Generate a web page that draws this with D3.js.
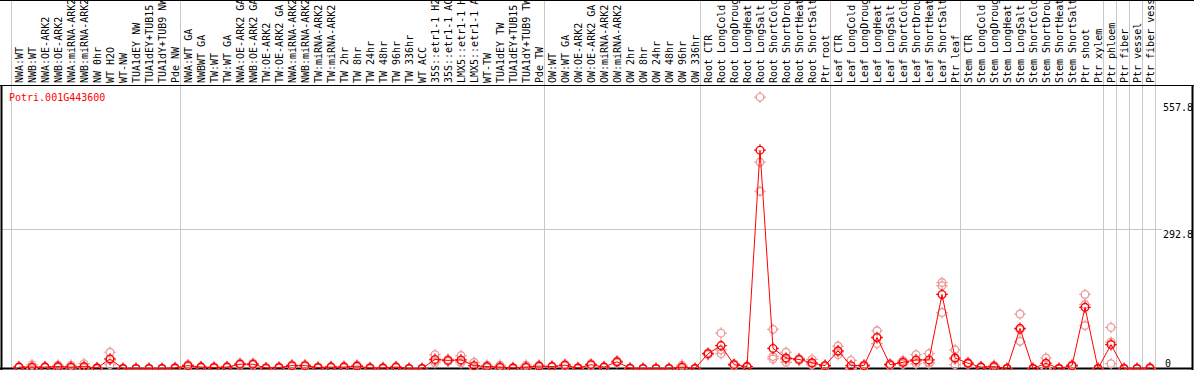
<html>
<head>
    <title> Potri.001G443600 expression </title>
    <style>
        body {
            margin: 0;
            background: #fff;
        }

        #main-svg {
            display: block;
        }

        text {
            font-family: "DejaVu Sans Mono", "Liberation Mono", monospace;
            font-size: 10px;
        }
    </style>
</head>

<script src="https://d3js.org/d3.v7.min.js"></script>

<body>
    <svg id="main-svg" width="1194" height="370" xmlns="http://www.w3.org/2000/svg"></svg>

    <script>
        const geneId = "Potri.001G443600";

        const labels = [
            "NWA:WT", "NWB:WT", "NWA:OE-ARK2", "NWB:OE-ARK2", "NWA:miRNA-ARK2", "NWB:miRNA-ARK2",
            "NW 0hr", "WT H2O", "WT-NW", "TUA1dEY NW", "TUA1dEY+TUB15 NW", "TUA1dY+TUB9 NW", "Pde NW",
            "NWA:WT GA", "NWBWT GA", "TW:WT", "TW:WT GA", "NWA:OE-ARK2 GA", "NWB:OE-ARK2 GA",
            "TW:OE-ARK2", "TW:OE-ARK2 GA", "NWA:miRNA-ARK2 GA", "NWB:miRNA-ARK2 GA", "TW:miRNA-ARK2",
            "TW:miRNA-ARK2", "TW 2hr", "TW 8hr", "TW 24hr", "TW 48hr", "TW 96hr", "TW 336hr", "WT ACC",
            "35S::etr1-1 H2O", "35S::etr1-1 ACC", "LMX5::etr1-1 H2O", "LMX5::etr1-1 ACC", "WT-TW",
            "TUA1dEY TW", "TUA1dEY+TUB15 TW", "TUA1dY+TUB9 TW", "Pde TW",
            "OW:WT", "OW:WT GA", "OW:OE-ARK2", "OW:OE-ARK2 GA", "OW:miRNA-ARK2", "OW:miRNA-ARK2",
            "OW 2hr", "OW 8hr", "OW 24hr", "OW 48hr", "OW 96hr", "OW 336hr",
            "Root CTR", "Root LongCold", "Root LongDrought", "Root LongHeat", "Root LongSalt",
            "Root ShortCold", "Root ShortDrought", "Root ShortHeat", "Root ShortSalt", "Ptr root",
            "Leaf CTR", "Leaf LongCold", "Leaf LongDrought", "Leaf LongHeat", "Leaf LongSalt",
            "Leaf ShortCold", "Leaf ShortDrought", "Leaf ShortHeat", "Leaf ShortSalt", "Ptr leaf",
            "Stem CTR", "Stem LongCold", "Stem LongDrought", "Stem LongHeat", "Stem LongSalt",
            "Stem ShortCold", "Stem ShortDrought", "Stem ShortHeat", "Stem ShortSalt", "Ptr shoot",
            "Ptr xylem", "Ptr phloem", "Ptr fiber", "Ptr vessel", "Ptr fiber vessel"
        ];

        // mean expression per sample
        const means = [
            3, 3, 3, 4, 3, 4, 1, 20, 0, 0, 0, 0, 1,
            6, 3, 2, 3, 9, 9, 1, 2, 6, 6, 2, 3, 3, 5, 1, 1, 3, 0, 0, 19, 17, 18, 6, 4, 3, 1, 3, 5,
            4, 7, 1, 8, 3, 14, 0.5, 0, 0, 0, 3, 0,
            31, 48, 8, 4, 457, 42, 22, 19, 12, 6,
            37, 6, 6, 65, 8, 13, 18, 18, 155, 22,
            11, 3, 4, 0, 84, 0, 11, 0, 6, 128, 0,
            50, 0, 0, 1
        ];

        // replicate values per sample
        const reps = [
            [2, 3, 4], [0, 1, 8], [2, 3, 4], [2, 3, 7], [1, 2, 7], [1, 2, 10], [0, 1, 2], [8, 18, 34],
            [0, 0, 0], [0, 0, 0], [0, 0, 0], [0, 0, 0], [0, 1, 2],
            [4, 6, 8], [2, 3, 4], [1, 2, 3], [2, 3, 4], [7, 9, 11], [7, 9, 11], [0, 1, 1], [1, 2, 3],
            [4, 6, 8], [4, 6, 8], [1, 2, 3], [2, 3, 4], [2, 3, 5], [3, 5, 7], [0, 1, 2], [0, 1, 2],
            [2, 3, 4], [0, 0, 0], [0, 0, 0], [12, 16, 29], [15, 17, 19], [12, 15, 27], [2, 3, 13],
            [2, 3, 7], [1, 2, 7], [0, 1, 2], [1, 2, 7], [3, 5, 7],
            [3, 4, 5], [5, 7, 9], [0, 1, 2], [6, 8, 10], [2, 3, 4], [12, 14, 16], [0, 0, 1],
            [0, 0, 0], [0, 0, 0], [0, 0, 0], [1, 1, 7], [0, 0, 0],
            [29, 31, 33], [31, 39, 74], [6, 8, 10], [3, 4, 5], [371, 432, 568], [20, 25, 82],
            [13, 19, 34], [17, 19, 21], [8, 9, 19], [4, 6, 7],
            [29, 35, 47], [0, 0, 17], [3, 6, 8], [52, 64, 79], [6, 8, 10], [9, 13, 17],
            [10, 15, 29], [10, 13, 31], [117, 173, 180], [8, 19, 39],
            [9, 11, 13], [2, 3, 4], [2, 3, 7], [0, 0, 0], [57, 81, 114], [0, 0, 0], [0, 11, 22],
            [0, 0, 0], [4, 6, 8], [90, 134, 155], [0, 0, 0],
            [10, 55, 86], [0, 0, 0], [0, 0, 0], [0, 1, 2]
        ];

        // first sample index of every tissue group, last entry closes the final group
        const groupStarts = [0, 13, 41, 53, 63, 73, 84, 85, 86, 87, 88];

        const yTicks = [0, 292.8, 557.8];
        const gridTicks = [292.8];

        const W = 1194, H = 370;
        const headerY = 85;
        const meanColor = "#ff0000";
        const repColor = "#ee9c9c";

        const svg = d3.select("#main-svg");

        const x = d3.scaleBand()
            .domain(d3.range(labels.length))
            .range([11, 1155]);
        const px = i => x(i) + 8;
        const sepX = i => (i < labels.length ? x(i) : x.range()[1]);

        const y = d3.scaleLinear()
            .domain([0, 557.8])
            .range([368.5, 102]);

        // grid line
        svg.selectAll(".grid")
            .data(gridTicks)
            .enter()
            .append("line")
            .attr("x1", 0)
            .attr("x2", 1162)
            .attr("y1", d => Math.round(y(d)) + 0.5)
            .attr("y2", d => Math.round(y(d)) + 0.5)
            .attr("stroke", "#c8c8c8");

        // group separators
        svg.selectAll(".sep")
            .data(groupStarts)
            .enter()
            .append("line")
            .attr("x1", d => Math.round(sepX(d)) + 0.5)
            .attr("x2", d => Math.round(sepX(d)) + 0.5)
            .attr("y1", 0)
            .attr("y2", 369)
            .attr("stroke", "#c8c8c8");

        // frame
        const frame = svg.append("g").attr("stroke", "#000").attr("fill", "none");
        frame.append("line").attr("x1", 0).attr("x2", W).attr("y1", 0.5).attr("y2", 0.5);
        frame.append("line").attr("x1", 0).attr("x2", W).attr("y1", headerY + 0.5).attr("y2", headerY + 0.5);
        frame.append("line").attr("x1", 0).attr("x2", 1193).attr("y1", 368.5).attr("y2", 368.5).attr("stroke-width", 2);
        frame.append("line").attr("x1", 1.5).attr("x2", 1.5).attr("y1", headerY).attr("y2", 370).attr("stroke-width", 2);
        frame.append("line").attr("x1", 1192.5).attr("x2", 1192.5).attr("y1", headerY).attr("y2", 370).attr("stroke-width", 2);

        // sample labels, rotated
        svg.append("g")
            .selectAll("text")
            .data(labels)
            .enter()
            .append("text")
            .attr("transform", (d, i) => `translate(${px(i)},${headerY - 2}) rotate(-90)`)
            .attr("dominant-baseline", "central")
            .attr("fill", "#000")
            .text(d => d);

        // gene id
        svg.append("text")
            .attr("x", 9)
            .attr("y", 101)
            .attr("fill", meanColor)
            .text(geneId);

        // y tick labels on the right
        svg.append("g")
            .selectAll("text")
            .data(yTicks)
            .enter()
            .append("text")
            .attr("x", d => (d === 0 ? 1165 : 1163))
            .attr("y", d => Math.min(y(d) + 9, y(0) - 2))
            .attr("fill", "#000")
            .text(d => d);

        function marker(g, color) {
            g.append("circle")
                .attr("r", 3.8)
                .attr("fill", "none")
                .attr("stroke", color)
                .attr("stroke-width", 1.4);
            g.append("path")
                .attr("d", "M0,-5.8V-3.8M0,3.8V5.8M-5.8,0H-3.8M3.8,0H5.8")
                .attr("stroke", color)
                .attr("stroke-width", 1.2);
        }

        // replicates
        const repPts = [];
        reps.forEach((r, i) => r.forEach(v => repPts.push({ i: i, v: v })));
        svg.append("g")
            .selectAll("g")
            .data(repPts)
            .enter()
            .append("g")
            .attr("transform", d => `translate(${px(d.i)},${y(d.v)})`)
            .each(function () { marker(d3.select(this), repColor); });

        // mean line
        const line = d3.line()
            .x((d, i) => px(i))
            .y(d => y(d));
        svg.append("path")
            .datum(means)
            .attr("d", line)
            .attr("fill", "none")
            .attr("stroke", meanColor)
            .attr("stroke-width", 1);

        // means
        svg.append("g")
            .selectAll("g")
            .data(means)
            .enter()
            .append("g")
            .attr("transform", (d, i) => `translate(${px(i)},${y(d)})`)
            .each(function () { marker(d3.select(this), meanColor); });
    </script>
</body>
</html>
